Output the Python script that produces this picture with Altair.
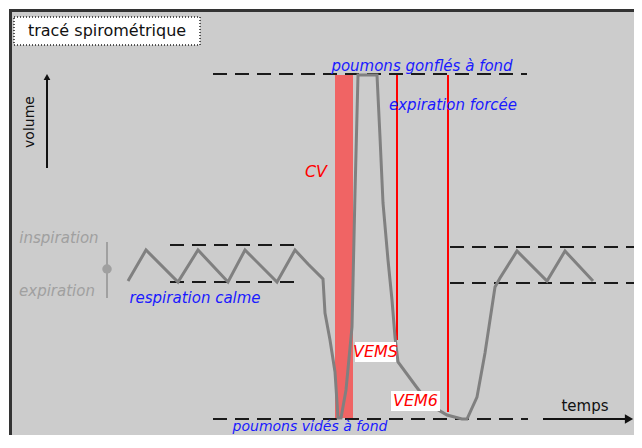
import altair as alt
import pandas as pd

# ---- data (temps, volume in arbitrary chart units) ----
curve_t = [116, 134, 166, 186, 216, 233, 265, 283, 296, 311, 313, 318, 323, 326, 329, 334, 340, 343, 346,
           365, 368, 371, 376, 380, 383, 386, 403, 418, 435, 450, 455, 465, 473, 478, 483, 488, 505, 535, 553, 581]
curve_v = [165, 196, 164, 196, 164, 196, 164, 196, 182, 167, 133, 106, 74, 28, 28, 56, 119, 253, 371,
           371, 309, 243, 186, 146, 109, 84, 61, 41, 31, 27, 27, 49, 93, 126, 159, 168, 195, 165, 195, 165]

dash_t1 = [201, 201, 158, 158, 438, 438]
dash_t2 = [515, 516, 288, 288, 622, 622]
dash_v = [372, 27, 201, 164, 199, 163]

red_t = [385, 436]
red_top = [371, 371]
red_bottom = [106, 34]

cv_band = dict(t1=323, t2=341, v1=28, v2=371)

blue_labels = ["poumons gonflés à fond", "expiration forcée", "respiration calme", "poumons vidés à fond"]
blue_t = [410, 441, 183, 298]
blue_v = [380, 341, 148, 19]
blue_size = [15, 15, 15, 14]

gray_labels = ["inspiration", "expiration"]
gray_t = [47, 45]
gray_v = [208, 155]

box_labels = ["VEMS", "VEM6"]
box_t1 = [343, 379]
box_t2 = [384, 428]
box_v1 = [84, 35]
box_v2 = [104, 55]

X0, X1 = 0, 622
Y0, Y1 = 11, 434
W, H = X1 - X0, Y1 - Y0
xs = alt.Scale(domain=[X0, X1], nice=False, zero=False)
ys = alt.Scale(domain=[Y0, Y1], nice=False, zero=False)


def X(f):
    return alt.X(f, type="quantitative", scale=xs, axis=None)


def Y(f):
    return alt.Y(f, type="quantitative", scale=ys, axis=None)


df_curve = pd.DataFrame({"t": curve_t, "v": curve_v, "i": range(len(curve_t))})
df_dash = pd.DataFrame({"t": dash_t1, "t2": dash_t2, "v": dash_v})
df_red = pd.DataFrame({"t": red_t, "v": red_top, "v2": red_bottom})
df_cv = pd.DataFrame([cv_band])
df_blue = pd.DataFrame({"label": blue_labels, "t": blue_t, "v": blue_v, "s": blue_size})
df_gray = pd.DataFrame({"label": gray_labels, "t": gray_t, "v": gray_v})
df_box = pd.DataFrame({"label": box_labels, "t1": box_t1, "t2": box_t2, "v1": box_v1, "v2": box_v2})
df_box["tc"] = (df_box.t1 + df_box.t2) / 2
df_box["vc"] = (df_box.v1 + df_box.v2) / 2

layers = []

# frame (left and top borders)
layers.append(alt.Chart(pd.DataFrame({"t": [-1.5], "v": [Y0], "v2": [Y1 + 2]})).mark_rule(
    color="#333333", strokeWidth=3).encode(x=X("t"), y=Y("v"), y2="v2"))
layers.append(alt.Chart(pd.DataFrame({"t": [-3], "t2": [X1], "v": [Y1 + 1.5]})).mark_rule(
    color="#333333", strokeWidth=3).encode(x=X("t"), x2="t2", y=Y("v")))

# CV band
layers.append(alt.Chart(df_cv).mark_rect(color="#f55555", opacity=0.88).encode(
    x=X("t1"), x2="t2", y=Y("v1"), y2="v2"))

# dashed levels
layers.append(alt.Chart(df_dash).mark_rule(color="#1a1a1a", strokeWidth=2, strokeDash=[14, 8]).encode(
    x=X("t"), x2="t2", y=Y("v")))

# red lines
layers.append(alt.Chart(df_red).mark_rule(color="#ff0000", strokeWidth=2).encode(
    x=X("t"), y=Y("v"), y2="v2"))

# spirometry curve
layers.append(alt.Chart(df_curve).mark_line(color="#808080", strokeWidth=3, strokeJoin="miter").encode(
    x=X("t"), y=Y("v"), order="i:Q"))

# temps arrow
layers.append(alt.Chart(pd.DataFrame({"t": [531], "t2": [617], "v": [27]})).mark_rule(
    color="#111111", strokeWidth=2).encode(x=X("t"), x2="t2", y=Y("v")))
layers.append(alt.Chart(pd.DataFrame({"t": [617], "v": [27]})).mark_point(
    shape="triangle-right", filled=True, color="#111111", size=90, opacity=1).encode(x=X("t"), y=Y("v")))
layers.append(alt.Chart(pd.DataFrame({"t": [573], "v": [40], "label": ["temps"]})).mark_text(
    font="DejaVu Sans", fontSize=15, color="#111111").encode(x=X("t"), y=Y("v"), text="label"))

# volume arrow
layers.append(alt.Chart(pd.DataFrame({"t": [35], "v": [278], "v2": [368]})).mark_rule(
    color="#111111", strokeWidth=2).encode(x=X("t"), y=Y("v"), y2="v2"))
layers.append(alt.Chart(pd.DataFrame({"t": [35], "v": [369]})).mark_point(
    shape="triangle-up", filled=True, color="#111111", size=45, opacity=1).encode(x=X("t"), y=Y("v")))
layers.append(alt.Chart(pd.DataFrame({"t": [18], "v": [324], "label": ["volume"]})).mark_text(
    font="DejaVu Sans", fontSize=14, color="#111111", angle=270).encode(x=X("t"), y=Y("v"), text="label"))

# title box
layers.append(alt.Chart(pd.DataFrame({"t1": [2], "t2": [188], "v1": [401], "v2": [429]})).mark_rect(
    fill="white", stroke="#222222", strokeWidth=1.5, strokeDash=[1, 2]).encode(
    x=X("t1"), x2="t2", y=Y("v1"), y2="v2"))
layers.append(alt.Chart(pd.DataFrame({"t": [95], "v": [415], "label": ["tracé spirométrique"]})).mark_text(
    font="DejaVu Sans", fontSize=16, color="#111111").encode(x=X("t"), y=Y("v"), text="label"))

# gray inspiration / expiration marker
layers.append(alt.Chart(pd.DataFrame({"t": [95], "v": [148], "v2": [204]})).mark_rule(
    color="#a0a0a0", strokeWidth=2).encode(x=X("t"), y=Y("v"), y2="v2"))
layers.append(alt.Chart(pd.DataFrame({"t": [95], "v": [177]})).mark_point(
    shape="circle", filled=True, color="#a0a0a0", size=90, opacity=1).encode(x=X("t"), y=Y("v")))
layers.append(alt.Chart(df_gray).mark_text(
    font="DejaVu Sans", fontSize=15, fontStyle="italic", color="#a0a0a0").encode(
    x=X("t"), y=Y("v"), text="label"))

# blue labels
layers.append(alt.Chart(df_blue).mark_text(
    font="DejaVu Sans", fontStyle="italic", color="#1a1aff").encode(
    x=X("t"), y=Y("v"), text="label", size=alt.Size("s:Q", scale=None, legend=None)))

# CV
layers.append(alt.Chart(pd.DataFrame({"t": [304], "v": [274], "label": ["CV"]})).mark_text(
    font="DejaVu Sans", fontSize=16, fontStyle="italic", color="#ff0000").encode(
    x=X("t"), y=Y("v"), text="label"))

# VEMS / VEM6 boxed labels
layers.append(alt.Chart(df_box).mark_rect(fill="white").encode(
    x=X("t1"), x2="t2", y=Y("v1"), y2="v2"))
layers.append(alt.Chart(df_box).mark_text(
    font="DejaVu Sans", fontSize=16, fontStyle="italic", color="#ff0000").encode(
    x=X("tc"), y=Y("vc"), text="label"))

chart = alt.layer(*layers).properties(
    width=W, height=H,
    padding={"left": 4, "top": 4, "right": 0, "bottom": 0},
    autosize=alt.AutoSizeParams(type="none"),
    background="white",
).configure_view(fill="#cccccc", strokeWidth=0)

chart.save("out.html", embed_options={"renderer": "svg", "actions": False})
